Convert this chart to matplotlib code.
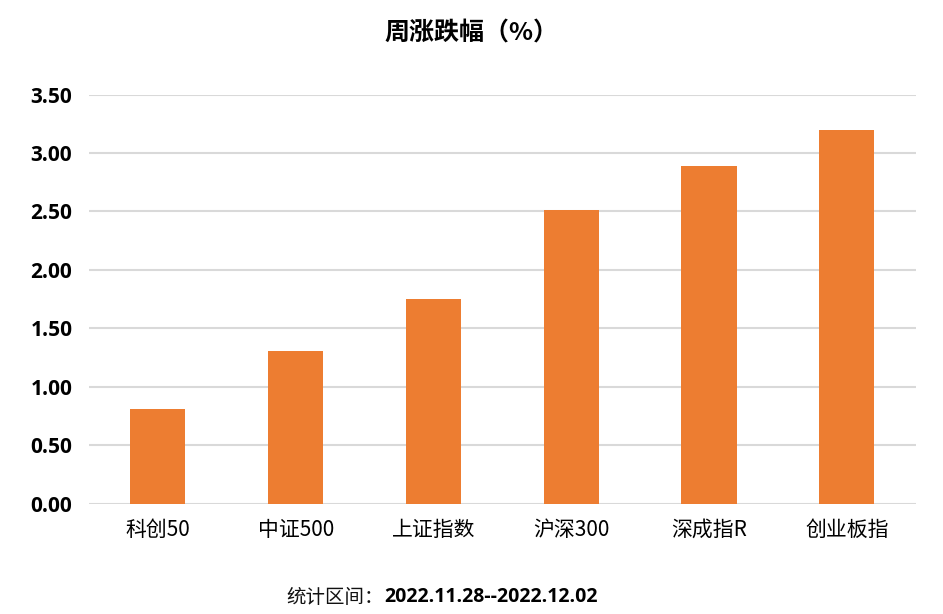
import numpy as np
import matplotlib
matplotlib.use("Agg")
import matplotlib.pyplot as plt

categories = ["科创50", "中证500", "上证指数", "沪深300", "深成指R", "创业板指"]
values = [0.81, 1.31, 1.75, 2.51, 2.89, 3.20]
yticks = [0.0, 0.5, 1.0, 1.5, 2.0, 2.5, 3.0, 3.5]

plt.rcParams['font.family'] = ['Noto Sans CJK SC', 'DejaVu Sans']

fig = plt.figure(figsize=(9.43, 6.14), dpi=100)
ax = fig.add_axes([0.0944, 0.1797, 0.8766, 0.6663])

x = np.arange(len(categories))
ax.bar(x, values, width=0.4, color="#ED7D31", zorder=3)

ax.set_xlim(-0.5, len(categories) - 0.5)
ax.set_ylim(0, 3.5)
ax.set_yticks(yticks)
ax.set_yticklabels([f"{v:.2f}" for v in yticks], fontfamily="Open Sans",
                   fontweight="bold", fontsize=15)
ax.set_xticks(x)
ax.set_xticklabels(categories, fontsize=15)
ax.tick_params(axis="y", length=0, pad=12)
ax.tick_params(axis="x", length=0, pad=11)
ax.grid(axis="y", color="#D9D9D9", linewidth=1.5, zorder=0)
for s in ["top", "right", "left", "bottom"]:
    ax.spines[s].set_visible(False)

fig.text(0.5, 0.945, "周涨跌幅（%）", ha="center", va="center",
         fontsize=18, fontweight="bold")
fig.text(0.407, 0.027, "统计区间：", ha="right", va="center", fontsize=14,
         color="#111111")
fig.text(0.408, 0.027, "2022.11.28--2022.12.02", ha="left", va="center",
         fontsize=14, fontweight="bold", fontfamily="Open Sans")

fig.savefig("out.png", dpi=100)
